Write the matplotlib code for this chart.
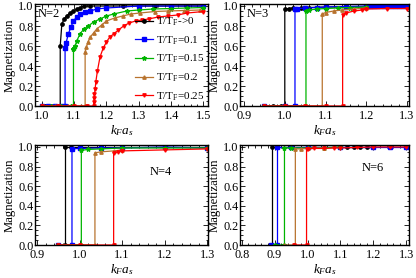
import matplotlib
matplotlib.use("Agg")
import matplotlib.pyplot as plt
from matplotlib.ticker import MultipleLocator

plt.rcParams['font.family'] = ['Liberation Serif', 'DejaVu Serif']
plt.rcParams['mathtext.fontset'] = 'custom'
plt.rcParams['mathtext.rm'] = 'Liberation Serif'
plt.rcParams['mathtext.it'] = 'Liberation Serif:italic'

labels = ['T/T$_\\mathrm{F}$->0', 'T/T$_\\mathrm{F}$=0.1', 'T/T$_\\mathrm{F}$=0.15',
          'T/T$_\\mathrm{F}$=0.2', 'T/T$_\\mathrm{F}$=0.25']
colors = ['#000000', '#0000ff', '#00b400', '#b8732e', '#ff0000']
markers = ['o', 's', '*', '^', 'v']

# ---- N = 2 ----
n2_black_x = [1.00, 1.01, 1.02, 1.03, 1.04, 1.05, 1.057, 1.057, 1.062, 1.069, 1.077, 1.087, 1.098, 1.108, 1.118, 1.13, 1.15, 1.2, 1.25, 1.3, 1.35, 1.4, 1.45, 1.5]
n2_black_y = [0, 0, 0, 0, 0, 0, 0, 0.60, 0.82, 0.87, 0.90, 0.93, 0.95, 0.97, 0.98, 1.0, 1.0, 1.0, 1.0, 1.0, 1.0, 1.0, 1.0, 1.0]
n2_blue_x = [1.00, 1.02, 1.04, 1.06, 1.072, 1.072, 1.075, 1.082, 1.09, 1.098, 1.108, 1.118, 1.133, 1.15, 1.17, 1.2, 1.3, 1.4, 1.5]
n2_blue_y = [0, 0, 0, 0, 0, 0.58, 0.63, 0.72, 0.79, 0.85, 0.89, 0.92, 0.94, 0.95, 0.97, 0.98, 1.0, 1.0, 1.0]
n2_green_x = [1.00, 1.03, 1.06, 1.09, 1.098, 1.098, 1.100, 1.103, 1.108, 1.118, 1.13, 1.144, 1.16, 1.18, 1.2, 1.222, 1.263, 1.3, 1.345, 1.4, 1.45, 1.5]
n2_green_y = [0, 0, 0, 0, 0, 0.57, 0.58, 0.60, 0.65, 0.72, 0.77, 0.80, 0.84, 0.87, 0.90, 0.92, 0.95, 0.96, 0.97, 0.975, 0.98, 0.985]
n2_brown_x = [1.00, 1.04, 1.08, 1.12, 1.134, 1.134, 1.138, 1.143, 1.15, 1.16, 1.17, 1.185, 1.2, 1.225, 1.25, 1.275, 1.304, 1.35, 1.39, 1.44, 1.49]
n2_brown_y = [0, 0, 0, 0, 0, 0.54, 0.59, 0.64, 0.69, 0.73, 0.77, 0.81, 0.85, 0.88, 0.90, 0.92, 0.93, 0.945, 0.95, 0.955, 0.96]
n2_red_x = [1.00, 1.05, 1.10, 1.14, 1.16, 1.161, 1.162, 1.163, 1.165, 1.167, 1.172, 1.18, 1.19, 1.2, 1.21, 1.222, 1.237, 1.253, 1.27, 1.29, 1.31, 1.33, 1.36, 1.39, 1.42, 1.45, 1.5]
n2_red_y = [0, 0, 0, 0, 0, 0.04, 0.08, 0.12, 0.17, 0.24, 0.35, 0.49, 0.58, 0.64, 0.69, 0.72, 0.76, 0.80, 0.83, 0.85, 0.86, 0.87, 0.89, 0.90, 0.91, 0.93, 0.945]

# ---- N = 3 ----
n3_black_x = [0.95, 0.97, 0.99, 1.0, 1.0, 1.01, 1.02, 1.04, 1.06, 1.1, 1.15, 1.2, 1.25, 1.3]
n3_black_y = [0, 0, 0, 0, 0.97, 0.975, 0.98, 0.98, 0.985, 0.99, 0.99, 0.99, 0.99, 0.99]
n3_blue_x = [0.95, 1.0, 1.025, 1.025, 1.03, 1.05, 1.08, 1.1, 1.15, 1.2, 1.21, 1.22, 1.23, 1.24, 1.25, 1.26, 1.27, 1.28, 1.29, 1.3]
n3_blue_y = [0, 0, 0, 0.97, 0.975, 0.98, 0.985, 0.99, 0.995, 1.0, 1.0, 1.0, 1.0, 1.0, 1.0, 1.0, 1.0, 1.0, 1.0, 1.0]
n3_green_x = [0.95, 1.0, 1.052, 1.052, 1.06, 1.08, 1.1, 1.13, 1.16, 1.2]
n3_green_y = [0, 0, 0, 0.95, 0.96, 0.97, 0.975, 0.98, 0.985, 0.99]
n3_brown_x = [0.95, 1.0, 1.05, 1.092, 1.092, 1.1, 1.12, 1.14, 1.17, 1.2]
n3_brown_y = [0, 0, 0, 0, 0.92, 0.935, 0.95, 0.96, 0.97, 0.98]
n3_red_x = [0.95, 1.0, 1.05, 1.1, 1.142, 1.142, 1.15, 1.17, 1.19, 1.2, 1.25, 1.3]
n3_red_y = [0, 0, 0, 0, 0, 0.91, 0.93, 0.95, 0.96, 0.97, 0.975, 0.975]

# ---- N = 4 ----
n4_black_x = [0.95, 0.966, 0.966, 0.98, 1.0, 1.05, 1.1, 1.2, 1.3]
n4_black_y = [0, 0, 1.0, 1.0, 1.0, 1.0, 1.0, 1.0, 1.0]
n4_blue_x = [0.95, 0.982, 0.982, 1.0, 1.05, 1.1, 1.2, 1.3]
n4_blue_y = [0, 0, 0.98, 0.985, 0.99, 0.99, 1.0, 0.99]
n4_green_x = [0.95, 1.004, 1.004, 1.02, 1.05, 1.1, 1.2, 1.3]
n4_green_y = [0, 0, 0.965, 0.975, 0.98, 0.99, 0.99, 0.99]
n4_brown_x = [0.95, 1.036, 1.036, 1.05, 1.08, 1.1]
n4_brown_y = [0, 0, 0.94, 0.95, 0.96, 0.97]
n4_red_x = [0.95, 1.0, 1.08, 1.08, 1.09, 1.1, 1.2, 1.3]
n4_red_y = [0, 0, 0, 0.94, 0.95, 0.96, 0.97, 0.98]

# ---- N = 6 ----
n6_black_x = [0.885, 0.892, 0.892, 0.95, 1.0, 1.1, 1.12, 1.14, 1.16, 1.18, 1.2]
n6_black_y = [0, 0, 1.0, 1.0, 1.0, 1.0, 1.0, 1.0, 1.0, 1.0, 1.0]
n6_blue_x = [0.89, 0.906, 0.906, 0.95, 1.0, 1.1, 1.2, 1.25, 1.3]
n6_blue_y = [0, 0, 1.0, 1.0, 1.0, 1.0, 1.0, 1.0, 1.0]
n6_green_x = [0.9, 0.93, 0.93, 0.95, 1.0, 1.05, 1.1]
n6_green_y = [0, 0, 0.99, 0.99, 0.99, 0.99, 1.0]
n6_brown_x = [0.93, 0.963, 0.963, 0.98, 1.0, 1.05]
n6_brown_y = [0, 0, 0.98, 0.98, 0.985, 0.99]
n6_red_x = [0.96, 0.997, 0.997, 1.0, 1.02, 1.05, 1.08, 1.1, 1.15, 1.2, 1.25, 1.3]
n6_red_y = [0, 0, 0.98, 0.98, 0.985, 0.985, 0.99, 0.99, 0.995, 1.0, 1.0, 1.0]

panels = [
    ('N=2', [(n2_black_x, n2_black_y), (n2_blue_x, n2_blue_y), (n2_green_x, n2_green_y), (n2_brown_x, n2_brown_y), (n2_red_x, n2_red_y)], (0.979, 1.514)),
    ('N=3', [(n3_black_x, n3_black_y), (n3_blue_x, n3_blue_y), (n3_green_x, n3_green_y), (n3_brown_x, n3_brown_y), (n3_red_x, n3_red_y)], (0.89, 1.305)),
    ('N=4', [(n4_black_x, n4_black_y), (n4_blue_x, n4_blue_y), (n4_green_x, n4_green_y), (n4_brown_x, n4_brown_y), (n4_red_x, n4_red_y)], (0.895, 1.302)),
    ('N=6', [(n6_black_x, n6_black_y), (n6_blue_x, n6_blue_y), (n6_green_x, n6_green_y), (n6_brown_x, n6_brown_y), (n6_red_x, n6_red_y)], (0.795, 1.308)),
]

fig = plt.figure(figsize=(4.16, 2.78), dpi=100)
W, H = 416, 278
boxes = [(35, 4, 208, 106), (240, 4, 409, 106), (35, 145, 208, 245), (240, 145, 409, 245)]
text_pos = [(0.015, 0.90, 'left'), (0.04, 0.90, 'left'), (0.66, 0.73, 'left'), (0.72, 0.77, 'left')]

for i, ((name, series, xl), (l, t, r, b)) in enumerate(zip(panels, boxes)):
    ax = fig.add_axes([l / W, 1 - b / H, (r - l) / W, (b - t) / H])
    for (xs, ys), c, m, lab in zip(series, colors, markers, labels):
        ms = 3.2 if m == '*' else 2.4
        ax.plot(xs, ys, color=c, marker=m, markersize=ms, linewidth=0.9, label=lab)
    ax.set_xlim(*xl)
    ax.set_ylim(0, 1.02)
    ax.xaxis.set_major_locator(MultipleLocator(0.1))
    ax.xaxis.set_minor_locator(MultipleLocator(0.02))
    ax.yaxis.set_major_locator(MultipleLocator(0.2))
    ax.yaxis.set_minor_locator(MultipleLocator(0.05))
    ax.xaxis.set_major_formatter(matplotlib.ticker.FormatStrFormatter('%.1f'))
    ax.yaxis.set_major_formatter(matplotlib.ticker.FormatStrFormatter('%.1f'))
    ax.tick_params(which='both', direction='in', top=True, right=True, labelsize=8.8, width=0.6)
    ax.tick_params(axis='y', pad=1.2)
    ax.tick_params(axis='x', pad=2.6)
    ax.tick_params(which='major', length=3.5)
    ax.tick_params(which='minor', length=1.8)
    for s in ax.spines.values():
        s.set_linewidth(1.0)
    ax.set_xlabel('$k_F a_s$', fontsize=9.5, labelpad=1)
    ax.set_ylabel('Magnetization', fontsize=9.2, labelpad=1.5)
    tx, ty, ha = text_pos[i]
    ax.text(tx, ty, name, transform=ax.transAxes, fontsize=9, ha=ha, va='center')
    if i == 0:
        ax.legend(loc='lower right', bbox_to_anchor=(1.0, 0.0), frameon=False, fontsize=8,
                  handlelength=1.6, handletextpad=0.3, labelspacing=0.55, borderpad=0.2,
                  borderaxespad=0.1)

fig.savefig('out.png', dpi=100)
